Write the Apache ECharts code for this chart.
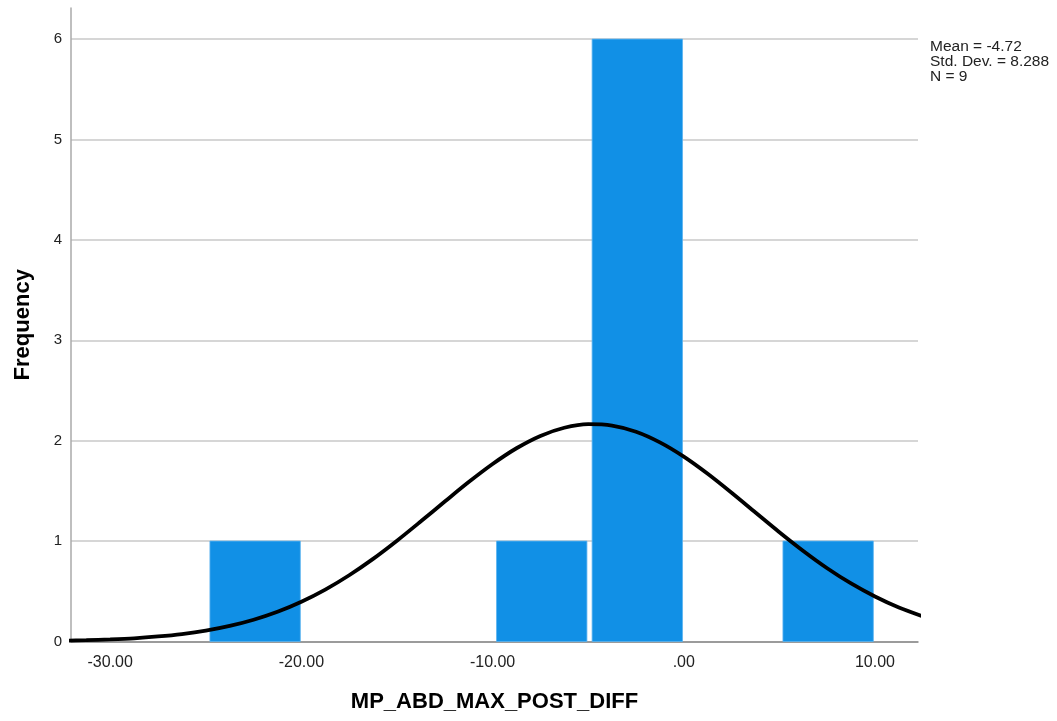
<!DOCTYPE html>
<html>
<head>
<meta charset="utf-8">
<script src="https://cdn.jsdelivr.net/npm/echarts@6/dist/echarts.min.js"></script>
<style>
html, body { margin: 0; padding: 0; background: #fff; }
#chart { width: 1057px; height: 721px; }
</style>
</head>
<body>
<div id="chart"></div>
<script>
// histogram bins: [start, end, frequency]
var binStart = [-24.92, -9.93, -4.93, 5.05]
var binEnd = [-19.92, -4.93, 0.07, 10.05]
var binCount = [1, 1, 6, 1]

// normal curve
var curveX = [-32.5, -31.25, -30, -28.75, -27.5, -26.25, -25, -23.75, -22.5, -21.25, -20, -18.75, -17.5, -16.25, -15, -13.75,
	-12.5, -11.25, -10, -8.75, -7.5, -6.25, -5, -3.75, -2.5, -1.25, 0, 1.25, 2.5, 3.75, 5, 6.25, 7.5, 8.75, 10, 11.25, 12.5]
var curveY = [0.008, 0.013, 0.021, 0.032, 0.05, 0.074, 0.108, 0.155, 0.217, 0.296, 0.396, 0.517, 0.66, 0.823, 1.004, 1.197,
	1.394, 1.588, 1.768, 1.925, 2.048, 2.129, 2.165, 2.151, 2.09, 1.984, 1.842, 1.671, 1.482, 1.285, 1.089, 0.902, 0.73, 0.578, 0.448, 0.338, 0.25]

var xTicks = [-30, -20, -10, 0, 10]
var statLines = ["Mean = -4.72", "Std. Dev. = 8.288", "N = 9"]

var font = "Liberation Sans, Arial, sans-serif"

var bars = binStart.map(function (s, i) { return [s, binEnd[i], binCount[i]] })
var curve = curveX.map(function (x, i) { return [x, curveY[i]] })

function fmt(v) {
	var s = Math.abs(v).toFixed(2)
	if (s.indexOf("0.") === 0) s = s.slice(1)
	return (v < 0 ? "-" : "") + s
}

var chart = echarts.init(document.getElementById("chart"))
chart.setOption({
	animation: false,
	grid: { left: 71, right: 139, top: 8, bottom: 79.5 },
	xAxis: {
		type: "value",
		min: -32.05,
		max: 12.25,
		name: "MP_ABD_MAX_POST_DIFF",
		nameLocation: "middle",
		nameGap: 49.5,
		nameTextStyle: { color: "#000", fontSize: 22, fontWeight: "bold", fontFamily: font },
		axisLine: { show: true, onZero: false, lineStyle: { color: "#888", width: 1.5 } },
		axisTick: { show: false },
		splitLine: { show: false },
		axisLabel: {
			customValues: xTicks,
			color: "#222",
			fontSize: 16,
			fontFamily: font,
			margin: 13,
			formatter: fmt
		}
	},
	yAxis: {
		type: "value",
		min: 0,
		max: 6.31,
		interval: 1,
		name: "Frequency",
		nameLocation: "middle",
		nameGap: 37,
		nameTextStyle: { color: "#000", fontSize: 22, fontWeight: "bold", fontFamily: font },
		axisLine: { show: true, onZero: false, lineStyle: { color: "#aaa", width: 1.5 } },
		axisTick: { show: false },
		splitLine: { show: true, showMaxLine: false, lineStyle: { color: "#c8c8c8", width: 1.5 } },
		axisLabel: {
			color: "#222",
			fontSize: 15,
			fontFamily: font,
			margin: 9,
			showMaxLabel: false,
			formatter: function (v) { return Math.round(v) === v ? String(v) : "" }
		}
	},
	graphic: [{
		type: "text",
		left: 930,
		top: 39,
		style: {
			text: statLines.join("\n"),
			fill: "#222",
			fontSize: 15.5,
			fontFamily: font,
			lineHeight: 15
		}
	}],
	series: [
		{
			type: "custom",
			data: bars,
			renderItem: function (params, api) {
				var p0 = api.coord([api.value(0), 0])
				var p1 = api.coord([api.value(1), api.value(2)])
				var inset = 2.6
				return {
					type: "rect",
					shape: { x: p0[0] + inset, y: p1[1], width: p1[0] - p0[0] - inset * 2, height: p0[1] - p1[1] },
					style: { fill: "#1190e6", stroke: "#5cb4f0", lineWidth: 0.8 }
				}
			},
			z: 2
		},
		{
			type: "line",
			data: curve,
			smooth: 0.3,
			symbol: "none",
			clip: true,
			lineStyle: { color: "#000", width: 3.8 },
			z: 3
		}
	]
})
</script>
</body>
</html>
